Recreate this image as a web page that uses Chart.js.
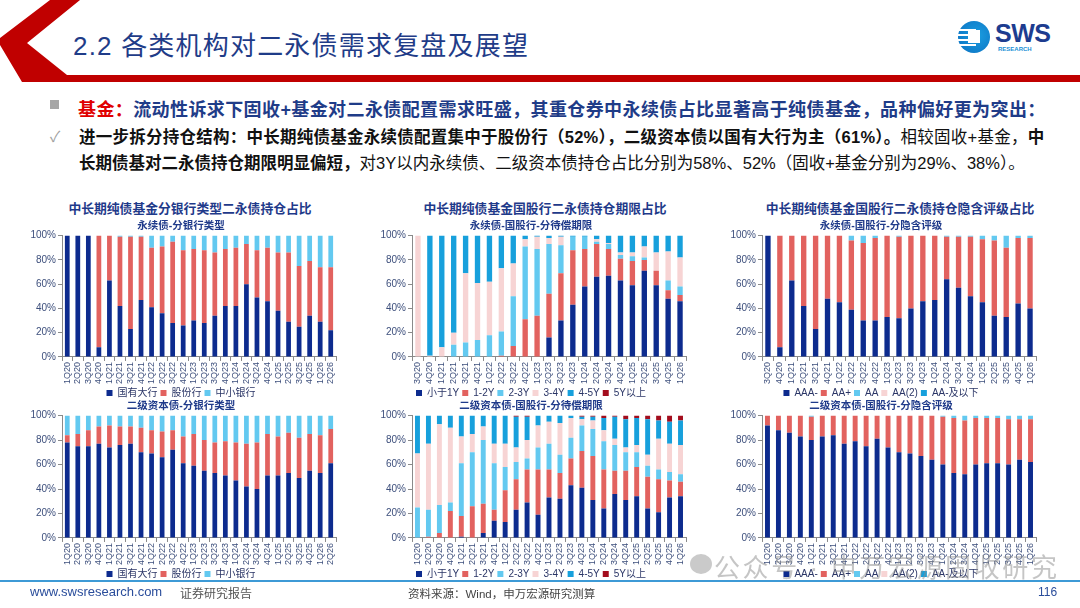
<!DOCTYPE html>
<html>
<head>
<meta charset="utf-8">
<script src="https://cdn.jsdelivr.net/npm/chart.js@4.4.1/dist/chart.umd.min.js"></script>
<style>
  body { margin:0; width:1080px; height:608px; position:relative; overflow:hidden; background:#fff;
         font-family:'Liberation Sans','Noto Sans CJK SC',sans-serif; }
  .abs { position:absolute; white-space:nowrap; }
  .box { position:absolute; }
  .gt { position:absolute; top:198px; width:350px; text-align:center; font-size:12.8px; font-weight:bold; color:#1f3a8a; }
</style>
</head>
<body>

<svg class="abs" style="left:0;top:0" width="1080" height="90">
  <polygon points="50,0 80,0 27,43 67,75 1080,75 1080,82 22,82 0,45 0,38" fill="#c00000"/>
</svg>

<div class="abs" style="left:73px;top:25px;font-size:26px;letter-spacing:1.2px;color:#1f3c88;">2.2&nbsp;各类机构对二永债需求复盘及展望</div>

<!-- logo -->
<div class="box" style="left:958px;top:21px;width:32px;height:32px;border-radius:50%;background:radial-gradient(circle at 60% 45%,#1a9de0,#0b6fc0);"></div>
<div class="box" style="left:958px;top:29px;width:18px;height:2px;background:#fff;"></div>
<div class="box" style="left:958px;top:34px;width:18px;height:2px;background:#fff;"></div>
<div class="box" style="left:958px;top:39px;width:18px;height:2px;background:#fff;"></div>
<div class="box" style="left:958px;top:44px;width:18px;height:2px;background:#fff;"></div>
<div class="box" style="left:968px;top:30px;width:12px;height:13px;background:#fff;"></div>
<div class="abs" style="left:995px;top:19px;font-size:25px;font-weight:bold;color:#1d3c8f;letter-spacing:-0.5px;">SWS</div>
<div class="abs" style="left:998px;top:46px;font-size:6px;font-weight:bold;color:#1a8fd6;">RESEARCH</div>

<div class="box" style="left:50px;top:100px;width:9px;height:9px;background:#a6a6a6;"></div>
<div class="abs" style="left:78px;top:95px;font-size:18px;letter-spacing:0.4px;font-weight:bold;color:#1f3c88;"><span style="color:#e00000">基金：</span>流动性诉求下固收+基金对二永债配置需求旺盛，其重仓券中永续债占比显著高于纯债基金，品种偏好更为突出：</div>
<div class="abs" style="left:50px;top:125px;font-size:15px;color:#a0a0a0;">✓</div>
<div class="abs" style="left:79px;top:124px;font-size:16.5px;color:#111;line-height:26px;">
<span style="letter-spacing:0.25px"><b>进一步拆分持仓结构：中长期纯债基金永续债配置集中于股份行（52%），二级资本债以国有大行为主（61%）。</b>相较固收+基金，<b>中</b></span><br>
<b>长期债基对二永债持仓期限明显偏短，</b>对3Y以内永续债、二级资本债持仓占比分别为58%、52%（固收+基金分别为29%、38%）。
</div>

<div class="gt" style="left:15px;">中长期纯债基金分银行类型二永债持仓占比</div>
<div class="gt" style="left:370px;">中长期纯债基金国股行二永债持仓期限占比</div>
<div class="gt" style="left:725px;">中长期纯债基金国股行二永债持仓隐含评级占比</div>

<div class="box" style="left:26px;top:220px;width:320px;height:188px;"><canvas id="c1"></canvas></div>
<div class="box" style="left:376px;top:220px;width:320px;height:188px;"><canvas id="c2"></canvas></div>
<div class="box" style="left:726px;top:220px;width:320px;height:188px;"><canvas id="c3"></canvas></div>
<div class="box" style="left:26px;top:400px;width:320px;height:189px;"><canvas id="c4"></canvas></div>
<div class="box" style="left:376px;top:400px;width:320px;height:189px;"><canvas id="c5"></canvas></div>
<div class="box" style="left:726px;top:400px;width:320px;height:189px;"><canvas id="c6"></canvas></div>

<div class="box" style="left:0;top:580px;width:1080px;height:2px;background:#3d9ad6;"></div>
<div class="abs" style="left:30px;top:584px;font-size:13px;color:#2a4d9b;">www.swsresearch.com</div>
<div class="abs" style="left:180px;top:584px;font-size:12px;color:#555;">证券研究报告</div>
<div class="abs" style="left:408px;top:585px;font-size:11.5px;color:#444;">资料来源：Wind，申万宏源研究测算</div>
<div class="abs" style="left:1038px;top:585px;font-size:12px;color:#2a4d9b;">116</div>

<!-- watermark -->
<div class="box" style="left:690px;top:554px;width:22px;height:20px;border-radius:50%;background:rgba(150,150,150,0.5);"></div>
<div class="abs" style="left:714px;top:547px;font-size:26px;color:rgba(140,140,140,0.5);letter-spacing:2.6px;">公众号 · 申万宏源固收研究</div>

<script>
Chart.defaults.font.family = "'Liberation Sans','Noto Sans CJK SC',sans-serif";
Chart.defaults.animation = false;

// categories
const q1Q20to2Q26 = ['1Q20','2Q20','3Q20','4Q20','1Q21','2Q21','3Q21','4Q21','1Q22','2Q22','3Q22','4Q22','1Q23','2Q23','3Q23','4Q23','1Q24','2Q24','3Q24','4Q24','1Q25','2Q25','3Q25','4Q25','1Q26','2Q26'];
const q3Q20to1Q26 = ['3Q20','4Q20','1Q21','2Q21','3Q21','4Q21','1Q22','2Q22','3Q22','4Q22','1Q23','2Q23','3Q23','4Q23','1Q24','2Q24','3Q24','4Q24','1Q25','2Q25','3Q25','4Q25','1Q26'];
const q1Q20to1Q26 = ['1Q20','2Q20','3Q20','4Q20','1Q21','2Q21','3Q21','4Q21','1Q22','2Q22','3Q22','4Q22','1Q23','2Q23','3Q23','4Q23','1Q24','2Q24','3Q24','4Q24','1Q25','2Q25','3Q25','4Q25','1Q26'];

const bankNames = ['国有大行','股份行','中小银行'];
const termNames = ['小于1Y','1-2Y','2-3Y','3-4Y','4-5Y','5Y以上'];
const ratingNames = ['AAA-','AA+','AA','AA(2)','AA-及以下'];

const yTicks = [0,20,40,60,80,100];

// 永续债-分银行类型 (%)
const perpBig   = [100,100,100,8,63,42,23,47,41,36,28,26,30,28,34,42,42,60,49,46,38,29,25,34,29,22];
const perpJoint = [0,0,0,92,37,57,76,52,49,55,67,62,59,60,52,47,48,33,39,44,48,57,50,45,45,52];
const perpSmall = [0,0,0,0,0,1,1,1,10,9,5,12,11,12,14,11,10,7,12,10,14,14,25,21,26,26];

// 二级资本债-分银行类型 (%)
const t2Big   = [78,75,75,77,74,76,77,70,69,66,72,61,59,55,53,51,47,42,40,51,51,53,49,55,53,61];
const t2Joint = [6,10,13,14,18,15,14,20,19,21,16,22,26,25,25,28,31,35,38,34,32,33,33,30,31,28];
const t2Small = [16,15,12,9,8,9,9,10,12,13,12,17,15,20,22,21,22,23,22,15,17,14,18,15,16,11];

// 永续债-国股行-分待偿期限 (%)
const perpLt1 = [0,0,0,0,0,0,0,0,0,0,0,16,30,43,58,66,67,63,59,71,59,48,46];
const perp1to2 = [0,0,0,0,0,0,0,1,9,31,34,36,39,45,31,27,22,18,20,9,12,7,5];
const perp2to3 = [0,0,0,10,12,14,18,20,41,60,55,41,23,11,10,2,4,3,4,2,0,8,7];
const perp3to4 = [100,1,8,10,57,47,44,52,27,6,10,5,7,0,0,2,1,2,3,9,15,24,24];
const perp4to5 = [0,99,92,80,31,39,38,27,23,3,1,2,1,1,1,3,6,14,14,9,14,13,18];
const perpGt5  = [0,0,0,0,0,0,0,0,0,0,0,0,0,0,0,0,0,0,0,0,0,0,0];

// 二级资本债-国股行-分待偿期限 (%)
const t2Lt1  = [0,0,0,0,1,0,4,14,13,23,29,19,33,32,43,41,31,24,36,31,34,24,21,33,34];
const t21to2 = [0,1,4,22,17,26,24,9,26,25,27,37,23,21,22,30,36,32,19,24,24,26,27,14,12];
const t22to3 = [25,22,23,7,43,44,52,38,19,14,9,18,21,15,17,21,22,23,21,15,12,9,8,7,6];
const t23to4 = [44,54,66,61,22,15,11,16,19,12,15,18,18,26,16,5,7,9,5,4,6,9,25,23,24];
const t24to5 = [31,23,7,10,17,15,9,23,23,25,19,8,5,6,2,2,3,10,18,23,22,29,15,18,20];
const t2Gt5  = [0,0,0,0,0,0,0,0,0,1,1,0,0,0,0,1,1,2,1,3,2,3,4,5,4];

// 永续债-国股行-分隐含评级 (%)
const perpAAAm = [100,8,63,42,23,48,45,39,30,30,33,32,40,46,47,64,57,50,45,34,33,44,40];
const perpAAp  = [0,92,37,58,77,52,55,57,64,68,67,67,60,54,53,35,42,49,52,62,57,54,58];
const perpAA   = [0,0,0,0,0,0,0,4,6,2,0,1,0,0,0,1,1,1,3,4,10,2,2];
const perpAA2  = [0,0,0,0,0,0,0,0,0,0,0,0,0,0,0,0,0,0,0,0,0,0,0];
const perpAAm  = [0,0,0,0,0,0,0,0,0,0,0,0,0,0,0,0,0,0,0,0,0,0,0];

// 二级资本债-国股行-分隐含评级 (%)
const t2AAAm = [92,88,86,83,80,83,84,77,79,75,81,74,70,69,67,64,60,53,52,60,61,61,60,64,62];
const t2AAp  = [8,12,14,17,19,17,16,23,21,25,19,26,30,31,33,36,39,45,44,38,37,37,37,33,35];
const t2AA   = [0,0,0,0,1,0,0,0,0,0,0,0,0,0,0,0,1,2,4,2,2,2,3,3,3];
const t2AA2  = [0,0,0,0,0,0,0,0,0,0,0,0,0,0,0,0,0,0,0,0,0,0,0,0,0];
const t2AAm  = [0,0,0,0,0,0,0,0,0,0,0,0,0,0,0,0,0,0,0,0,0,0,0,0,0];

const navy = '#0d2b8e', coral = '#e2625f', sky = '#63c9f0', blush = '#f7d4d4', azure = '#17a0dc', wine = '#a30d1d';
const tickColor = '#3d4f7c';

function stacked(id, title, labels, names, series, colors) {
  return new Chart(document.getElementById(id), {
    type: 'bar',
    data: {
      labels: labels,
      datasets: names.map(function (n, i) {
        return { label: n, data: series[i], backgroundColor: colors[i],
                 barPercentage: 0.45, categoryPercentage: 1.0 };
      })
    },
    options: {
      responsive: true,
      maintainAspectRatio: false,
      layout: { padding: { left: 0, right: 10, top: 0, bottom: 0 } },
      plugins: {
        title: { display: true, text: title, color: '#1f3a8a',
                 font: { size: 10.5, weight: 'bold' }, padding: { top: 0, bottom: 3 } },
        legend: { position: 'bottom',
                  labels: { boxWidth: 6, boxHeight: 6, padding: 3, color: '#2a3566', font: { size: 10 } } },
        tooltip: { enabled: false }
      },
      scales: {
        x: {
          stacked: true,
          grid: { display: true, drawOnChartArea: false, drawTicks: true, tickLength: 4, color: '#8a8a8a' },
          border: { display: true, color: '#8a8a8a' },
          ticks: { autoSkip: false, minRotation: 90, maxRotation: 90, padding: 1,
                   color: tickColor, font: { size: 9 } }
        },
        y: {
          stacked: true, min: 0, max: 100,
          afterBuildTicks: function (s) { s.ticks = yTicks.map(function (v) { return { value: v }; }); },
          afterFit: function (s) { s.width = 36; },
          grid: { display: true, drawOnChartArea: false, drawTicks: true, tickLength: 4, color: '#8a8a8a' },
          border: { display: true, color: '#8a8a8a' },
          ticks: { color: tickColor, font: { size: 10 }, padding: 2,
                   callback: function (v) { return v + '%'; } }
        }
      }
    }
  });
}

stacked('c1', '永续债-分银行类型', q1Q20to2Q26, bankNames,
        [perpBig, perpJoint, perpSmall], [navy, coral, sky]);
stacked('c2', '永续债-国股行-分待偿期限', q3Q20to1Q26, termNames,
        [perpLt1, perp1to2, perp2to3, perp3to4, perp4to5, perpGt5], [navy, coral, sky, blush, azure, wine]);
stacked('c3', '永续债-国股行-分隐含评级', q3Q20to1Q26, ratingNames,
        [perpAAAm, perpAAp, perpAA, perpAA2, perpAAm], [navy, coral, sky, blush, azure]);
stacked('c4', '二级资本债-分银行类型', q1Q20to2Q26, bankNames,
        [t2Big, t2Joint, t2Small], [navy, coral, sky]);
stacked('c5', '二级资本债-国股行-分待偿期限', q1Q20to1Q26, termNames,
        [t2Lt1, t21to2, t22to3, t23to4, t24to5, t2Gt5], [navy, coral, sky, blush, azure, wine]);
stacked('c6', '二级资本债-国股行-分隐含评级', q1Q20to1Q26, ratingNames,
        [t2AAAm, t2AAp, t2AA, t2AA2, t2AAm], [navy, coral, sky, blush, azure]);
</script>
</body>
</html>
